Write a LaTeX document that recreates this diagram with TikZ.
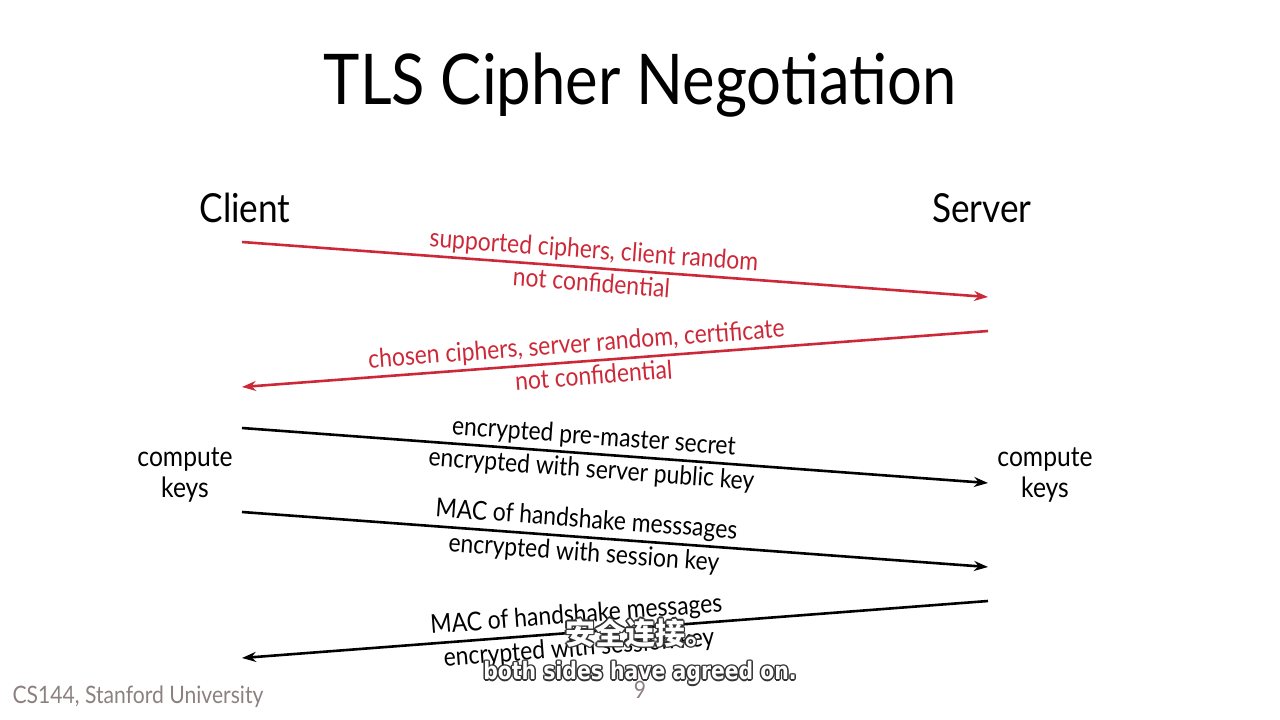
\documentclass[tikz,border=0pt]{standalone}
\usepackage{fontspec}
\setmainfont{Lato}[FakeStretch=0.88]
\newfontfamily\cjkfont{Noto Sans CJK SC}
\newfontfamily\subfont{DejaVu Sans}[FakeStretch=0.85]
\usetikzlibrary{arrows.meta}
\definecolor{msgred}{RGB}{205,40,55}
\definecolor{footgray}{RGB}{140,128,128}

\begin{document}
\begin{tikzpicture}[x=1pt,y=-1pt,
    msg/.style = {line width=2.6pt, -{Stealth[length=14pt,width=10pt]}},
    lbl/.style = {font=\fontsize{26}{30}\selectfont, inner sep=3.5pt, sloped},
    side/.style = {font=\fontsize{40}{46}\selectfont},
    keys/.style = {font=\fontsize{28}{31}\selectfont, align=center},
    sub/.style = {font=\subfont\bfseries\fontsize{24}{28}\selectfont}]

\useasboundingbox (0,0) rectangle (1280,720);

% Title
\node[font=\fontsize{70}{80}\selectfont] (title) at (640,85) {TLS Cipher Negotiation};

% Parties
\node[side] (client) at (245,208) {Client};
\node[side] (server) at (982,208) {Server};

% End points of the messages
\coordinate (c1) at (242,242); \coordinate (s1) at (988,297);
\coordinate (s2) at (988,331); \coordinate (c2) at (242,387);
\coordinate (c3) at (242,428); \coordinate (s3) at (988,483);
\coordinate (c4) at (242,512); \coordinate (s4) at (988,567);
\coordinate (s5) at (988,601); \coordinate (c5) at (242,658);

% Client hello
\draw[msg,msgred] (c1) -- (s1)
    node[lbl,pos=0.47,above] {supported ciphers, client random}
    node[lbl,pos=0.47,below] {not confidential};

% Server hello
\draw[msg,msgred] (s2) -- (c2)
    node[lbl,pos=0.55,above] {chosen ciphers, server random, certificate}
    node[lbl,pos=0.53,below] {not confidential};

% Key exchange
\draw[msg] (c3) -- (s3)
    node[lbl,pos=0.47,above] {encrypted pre-master secret}
    node[lbl,pos=0.47,below] {encrypted with server public key};

% Client finished
\draw[msg] (c4) -- (s4)
    node[lbl,pos=0.46,above] {MAC of handshake messsages}
    node[lbl,pos=0.46,below] {encrypted with session key};

% Server finished
\draw[msg] (s5) -- (c5)
    node[lbl,pos=0.55,above] {MAC of handshake messages}
    node[lbl,pos=0.55,below] {encrypted with session key};

% Key computation
\node[keys] (ckeys) at (185,475) {compute\\keys};
\node[keys] (skeys) at (1045,475) {compute\\keys};

% Footer
\node[font=\fontsize{24}{28}\selectfont, text=footgray] (foot) at (138,697) {CS144, Stanford University};
\node[font=\fontsize{24}{28}\selectfont, text=footgray] (page) at (640,690) {9};

% Subtitles
\foreach \dx/\dy in {-1.5/0,1.5/0,0/-1.5,0/1.5,-1/-1,1/1,-1/1,1/-1} {
  \node[sub, text=black!80] at (640+\dx,633+\dy) {\cjkfont\bfseries\fontsize{30}{34}\selectfont 安全连接。};
  \node[sub, text=black!80] at (640+\dx,673+\dy) {both sides have agreed on.};
}
\node[sub, text=white] (subcn) at (640,633) {\cjkfont\bfseries\fontsize{30}{34}\selectfont 安全连接。};
\node[sub, text=white] (suben) at (640,673) {both sides have agreed on.};
\end{tikzpicture}
\end{document}
